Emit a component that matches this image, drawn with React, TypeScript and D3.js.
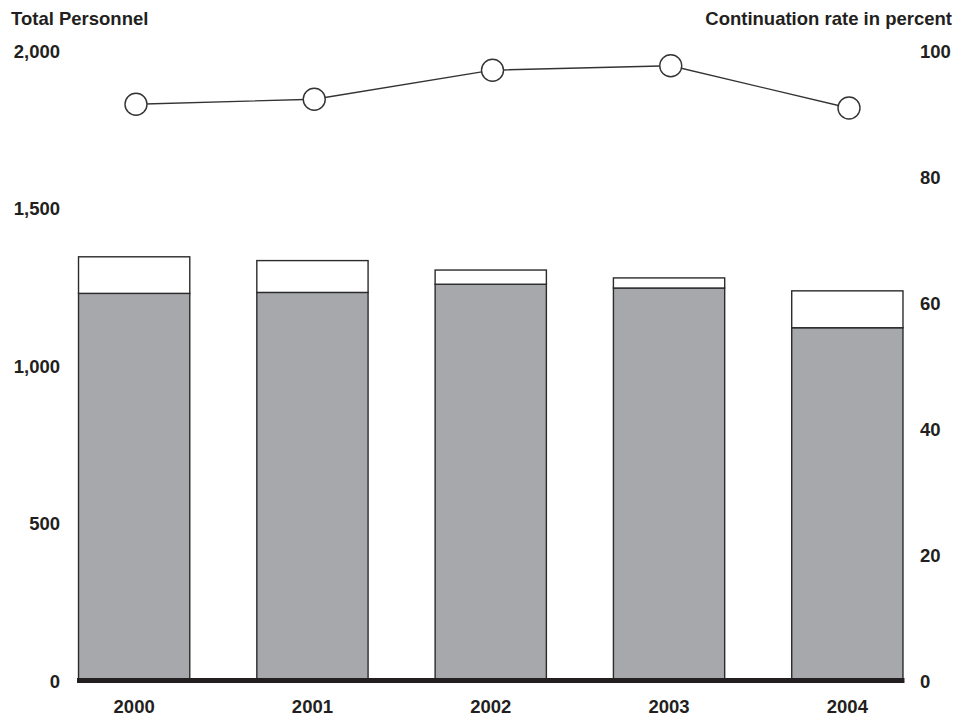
import { useEffect, useRef } from 'react';
import * as d3 from 'd3';

const years = ['2000', '2001', '2002', '2003', '2004'];
const continuing = [1228, 1231, 1257, 1245, 1119];
const totalPersonnel = [1344, 1332, 1302, 1277, 1236];
const continuationRate = [91.4, 92.2, 96.8, 97.5, 90.8];
const leftTicks = [0, 500, 1000, 1500, 2000];
const rightTicks = [0, 20, 40, 60, 80, 100];

const WIDTH = 955;
const HEIGHT = 719;
const FONT = '"Liberation Sans", Arial, Helvetica, sans-serif';

export default function App() {
  const ref = useRef<SVGSVGElement | null>(null);

  useEffect(() => {
    if (!ref.current) return;
    const svg = d3.select(ref.current);
    svg.selectAll('*').remove();

    const x = d3
      .scaleBand<string>()
      .domain(years)
      .range([45, 936.5])
      .paddingInner(0.376)
      .paddingOuter(0.188);

    // the rate markers sit a touch right of the bar centres
    const xRate = d3.scalePoint<string>().domain(years).range([136, 849]);

    const yLeft = d3.scaleLinear().domain([0, 2000]).range([680.5, 50]);
    const yRight = d3.scaleLinear().domain([0, 100]).range([680.5, 50]);

    const g = svg.append('g');

    // stacked bars: grey = continuing, white = remainder up to total
    years.forEach((yr, i) => {
      const x0 = x(yr) || 0;
      g.append('rect')
        .attr('x', x0)
        .attr('y', yLeft(continuing[i]))
        .attr('width', x.bandwidth())
        .attr('height', yLeft(0) - yLeft(continuing[i]))
        .attr('fill', '#a7a8ab')
        .attr('stroke', '#2b2b2b')
        .attr('stroke-width', 1.4);
      g.append('rect')
        .attr('x', x0)
        .attr('y', yLeft(totalPersonnel[i]))
        .attr('width', x.bandwidth())
        .attr('height', yLeft(continuing[i]) - yLeft(totalPersonnel[i]))
        .attr('fill', '#ffffff')
        .attr('stroke', '#2b2b2b')
        .attr('stroke-width', 1.4);
    });

    // baseline
    const first = x(years[0]) || 0;
    const last = (x(years[years.length - 1]) || 0) + x.bandwidth();
    g.append('line')
      .attr('x1', first - 1.5)
      .attr('x2', last + 1.5)
      .attr('y1', yLeft(0))
      .attr('y2', yLeft(0))
      .attr('stroke', '#231f20')
      .attr('stroke-width', 5);

    // continuation rate line
    const line = d3
      .line<number>()
      .x((_, i) => xRate(years[i]) || 0)
      .y((d) => yRight(d));

    g.append('path')
      .datum(continuationRate)
      .attr('d', line)
      .attr('fill', 'none')
      .attr('stroke', '#333')
      .attr('stroke-width', 1.4);

    g.selectAll('circle.rate')
      .data(continuationRate)
      .enter()
      .append('circle')
      .attr('class', 'rate')
      .attr('cx', (_, i) => xRate(years[i]) || 0)
      .attr('cy', (d) => yRight(d))
      .attr('r', 11)
      .attr('fill', '#fff')
      .attr('stroke', '#333')
      .attr('stroke-width', 1.4);

    const text = (sel: d3.Selection<SVGTextElement, unknown, null, undefined>) =>
      sel
        .attr('font-family', FONT)
        .attr('font-weight', 'bold')
        .attr('font-size', 18.5)
        .attr('fill', '#231f20');

    // left axis labels
    leftTicks.forEach((t) => {
      g.append('text')
        .call(text)
        .attr('x', 60)
        .attr('y', yLeft(t) + 7.5)
        .attr('text-anchor', 'end')
        .text(d3.format(',')(t));
    });

    // right axis labels
    rightTicks.forEach((t) => {
      g.append('text')
        .call(text)
        .attr('x', 920)
        .attr('y', yRight(t) + 7.5)
        .attr('text-anchor', 'start')
        .text(String(t));
    });

    // x labels
    years.forEach((yr) => {
      g.append('text')
        .call(text)
        .attr('x', (x(yr) || 0) + x.bandwidth() / 2)
        .attr('y', 713)
        .attr('text-anchor', 'middle')
        .text(yr);
    });

    g.append('text').call(text).attr('x', 11).attr('y', 25).text('Total Personnel');
    g.append('text')
      .call(text)
      .attr('x', 952)
      .attr('y', 25)
      .attr('text-anchor', 'end')
      .text('Continuation rate in percent');
  }, []);

  return (
    <svg
      ref={ref}
      width={WIDTH}
      height={HEIGHT}
      style={{ position: 'absolute', left: 0, top: 0, background: '#fff' }}
    />
  );
}
